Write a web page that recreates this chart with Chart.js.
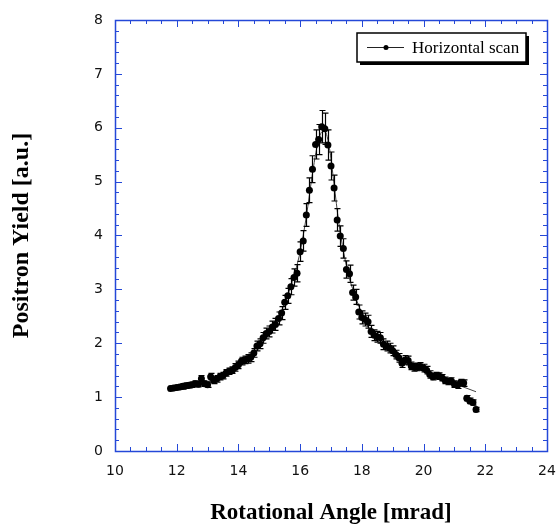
<!DOCTYPE html>
<html>
<head>
<meta charset="utf-8">
<script src="https://cdn.jsdelivr.net/npm/chart.js@4"></script>
<style>
  html, body { margin: 0; padding: 0; background: #fff; }
  #wrap { width: 556px; height: 528px; }
</style>
</head>
<body>
<div id="wrap"><canvas id="scanChart" width="556" height="528"></canvas></div>
<script>
// rotational angle [mrad]
const angles = [
  11.8, 11.9, 12.0, 12.1, 12.2, 12.3, 12.4, 12.5, 12.6, 12.7, 12.8, 12.9, 13.0,
  13.1, 13.2, 13.3, 13.4, 13.5, 13.6, 13.7, 13.8, 13.9, 14.0,
  14.1, 14.2, 14.3, 14.4, 14.5, 14.6, 14.7, 14.8, 14.9, 15.0,
  15.1, 15.2, 15.3, 15.4, 15.5, 15.6, 15.7, 15.8, 15.9, 16.0,
  16.1, 16.2, 16.3, 16.4, 16.5, 16.6, 16.7, 16.8, 16.9, 17.0,
  17.1, 17.2, 17.3, 17.4, 17.5, 17.6, 17.7, 17.8, 17.9, 18.0,
  18.1, 18.2, 18.3, 18.4, 18.5, 18.6, 18.7, 18.8, 18.9, 19.0,
  19.1, 19.2, 19.3, 19.4, 19.5, 19.6, 19.7, 19.8, 19.9, 20.0,
  20.1, 20.2, 20.3, 20.4, 20.5, 20.6, 20.7, 20.8, 20.9, 21.0,
  21.1, 21.2, 21.3, 21.4, 21.5, 21.6, 21.7
];
// positron yield [a.u.]
const yields = [
  1.16, 1.17, 1.18, 1.19, 1.20, 1.21, 1.22, 1.23, 1.25, 1.24, 1.34, 1.25, 1.23,
  1.38, 1.31, 1.34, 1.38, 1.40, 1.45, 1.48, 1.50, 1.55, 1.60,
  1.67, 1.69, 1.71, 1.74, 1.82, 1.95, 1.99, 2.10, 2.18, 2.22,
  2.30, 2.35, 2.46, 2.56, 2.76, 2.88, 3.05, 3.22, 3.30, 3.70,
  3.90, 4.38, 4.84, 5.23, 5.69, 5.78, 6.02, 5.98, 5.68, 5.29,
  4.88, 4.29, 3.99, 3.76, 3.37, 3.29, 2.94, 2.86, 2.58, 2.48,
  2.44, 2.40, 2.22, 2.15, 2.12, 2.10, 1.98, 1.95, 1.91, 1.86,
  1.79, 1.73, 1.63, 1.69, 1.68, 1.58, 1.55, 1.56, 1.57, 1.54,
  1.50, 1.42, 1.38, 1.40, 1.39, 1.36, 1.31, 1.29, 1.30, 1.24,
  1.22, 1.27, 1.26, 0.98, 0.93, 0.90, 0.77
];
// error bar half-heights
const errors = [
  0.04, 0.04, 0.04, 0.04, 0.05, 0.05, 0.05, 0.05, 0.05, 0.05, 0.06, 0.05, 0.05,
  0.06, 0.06, 0.06, 0.06, 0.06, 0.06, 0.06, 0.06, 0.07, 0.07,
  0.07, 0.07, 0.08, 0.08, 0.08, 0.09, 0.09, 0.10, 0.10, 0.10,
  0.11, 0.11, 0.12, 0.12, 0.13, 0.14, 0.15, 0.16, 0.16, 0.18,
  0.19, 0.21, 0.23, 0.25, 0.27, 0.28, 0.30, 0.29, 0.28, 0.26,
  0.24, 0.21, 0.19, 0.18, 0.16, 0.16, 0.14, 0.14, 0.13, 0.12,
  0.12, 0.12, 0.11, 0.10, 0.10, 0.10, 0.10, 0.09, 0.09, 0.09,
  0.08, 0.08, 0.08, 0.08, 0.08, 0.07, 0.07, 0.07, 0.07, 0.07,
  0.07, 0.07, 0.06, 0.06, 0.06, 0.06, 0.06, 0.06, 0.06, 0.06,
  0.06, 0.06, 0.06, 0.05, 0.05, 0.05, 0.04
];
// fitted curve drawn through the scan
const fitAngles = [11.8, 12.5, 13.0, 13.5, 14.0, 14.5, 15.0, 15.25, 15.5, 15.75, 16.0, 16.2, 16.4, 16.55, 16.7, 16.8, 16.95, 17.1, 17.25, 17.4, 17.6, 17.8, 18.0, 18.25, 18.5, 19.0, 19.5, 20.0, 20.5, 21.0, 21.7];
const fitYields = [1.13, 1.20, 1.28, 1.40, 1.56, 1.80, 2.18, 2.42, 2.75, 3.15, 3.70, 4.35, 5.15, 5.65, 5.92, 5.93, 5.62, 4.95, 4.25, 3.72, 3.20, 2.85, 2.55, 2.25, 2.05, 1.80, 1.62, 1.48, 1.36, 1.25, 1.10];

const xTickLabels = [10, 12, 14, 16, 18, 20, 22, 24];
const yTickLabels = [0, 1, 2, 3, 4, 5, 6, 7, 8];

const AXIS_BLUE = '#2448d8';

const errorBars = {
  id: 'errorBars',
  afterDatasetsDraw(chart) {
    const ctx = chart.ctx;
    const xs = chart.scales.x, ys = chart.scales.y;
    ctx.save();
    ctx.strokeStyle = '#000';
    ctx.lineWidth = 1.2;
    angles.forEach((a, i) => {
      const px = Math.round(xs.getPixelForValue(a)) + 0.5;
      const top = ys.getPixelForValue(yields[i] + errors[i]);
      const bot = ys.getPixelForValue(yields[i] - errors[i]);
      ctx.beginPath();
      ctx.moveTo(px, top); ctx.lineTo(px, bot);
      ctx.moveTo(px - 3, top); ctx.lineTo(px + 3, top);
      ctx.moveTo(px - 3, bot); ctx.lineTo(px + 3, bot);
      ctx.stroke();
    });
    ctx.restore();
  }
};

// frame on all four sides with inward ticks
const frameTicks = {
  id: 'frameTicks',
  afterDraw(chart) {
    const ctx = chart.ctx;
    const xs = chart.scales.x, ys = chart.scales.y;
    const { left, right, top, bottom } = chart.chartArea;
    ctx.save();
    ctx.strokeStyle = AXIS_BLUE;
    ctx.lineWidth = 1;
    for (let v = xs.min; v <= xs.max + 1e-9; v += 0.5) {
      const px = Math.round(xs.getPixelForValue(v)) + 0.5;
      const len = (Math.abs(v % 2) < 1e-9) ? 7 : 4;
      ctx.beginPath();
      ctx.moveTo(px, bottom); ctx.lineTo(px, bottom - len);
      ctx.moveTo(px, top); ctx.lineTo(px, top + len);
      ctx.stroke();
    }
    for (let v = ys.min; v <= ys.max + 1e-9; v += 0.2) {
      const py = Math.round(ys.getPixelForValue(v)) + 0.5;
      const len = (Math.abs(v - Math.round(v)) < 1e-6) ? 7 : 4;
      ctx.beginPath();
      ctx.moveTo(left, py); ctx.lineTo(left + len, py);
      ctx.moveTo(right, py); ctx.lineTo(right - len, py);
      ctx.stroke();
    }
    ctx.lineWidth = 1.5;
    ctx.strokeRect(Math.round(left) + 0.5, Math.round(top) + 0.5, Math.round(right - left), Math.round(bottom - top));
    ctx.restore();
  }
};

// boxed legend with drop shadow
const boxLegend = {
  id: 'boxLegend',
  afterDraw(chart) {
    const ctx = chart.ctx;
    const x = 357, y = 33, w = 169, h = 29;
    ctx.save();
    ctx.fillStyle = '#000';
    ctx.fillRect(x + 3, y + 3, w, h);
    ctx.fillStyle = '#fff';
    ctx.fillRect(x, y, w, h);
    ctx.strokeStyle = '#000';
    ctx.lineWidth = 1.5;
    ctx.strokeRect(x, y, w, h);
    const my = y + h / 2;
    ctx.lineWidth = 1;
    ctx.strokeStyle = '#222';
    ctx.beginPath();
    ctx.moveTo(x + 10, my); ctx.lineTo(x + 47, my);
    ctx.stroke();
    ctx.fillStyle = '#000';
    ctx.beginPath();
    ctx.arc(x + 29, my, 2.5, 0, Math.PI * 2);
    ctx.fill();
    ctx.font = '17px "Liberation Serif"';
    ctx.textBaseline = 'middle';
    ctx.fillText(chart.data.datasets[0].label, x + 55, my + 1);
    ctx.restore();
  }
};

new Chart('scanChart', {
  type: 'scatter',
  data: {
    datasets: [
      {
        label: 'Horizontal scan',
        data: angles.map((a, i) => ({ x: a, y: yields[i] })),
        showLine: false,
        pointRadius: 3.5,
        pointBackgroundColor: '#000',
        pointBorderColor: '#000',
        pointBorderWidth: 0,
        order: 0
      },
      {
        label: 'fit',
        data: fitAngles.map((a, i) => ({ x: a, y: fitYields[i] })),
        showLine: true,
        cubicInterpolationMode: 'monotone',
        borderColor: '#444',
        borderWidth: 1,
        pointRadius: 0,
        order: 1
      }
    ]
  },
  options: {
    responsive: false,
    animation: false,
    layout: { padding: { top: 20, right: 9, left: 0, bottom: 0 } },
    plugins: {
      legend: { display: false },
      tooltip: { enabled: false }
    },
    scales: {
      x: {
        type: 'linear',
        min: 10,
        max: 24,
        afterFit: (s) => { s.height = 77; s.paddingLeft = 0; s.paddingRight = 0; },
        afterBuildTicks: (s) => { s.ticks = xTickLabels.map(v => ({ value: v })); },
        grid: { display: false, drawTicks: false },
        border: { display: false },
        ticks: {
          padding: 12,
          color: '#111',
          font: { family: '"DejaVu Sans"', size: 14 }
        },
        title: {
          display: true,
          text: 'Rotational Angle [mrad]',
          color: '#000',
          font: { family: '"Liberation Serif"', size: 23, weight: 'bold' },
          padding: { top: 0, bottom: 1 }
        }
      },
      y: {
        min: 0,
        max: 8,
        afterFit: (s) => { s.width = 115; s.paddingTop = 0; s.paddingBottom = 0; },
        afterBuildTicks: (s) => { s.ticks = yTickLabels.map(v => ({ value: v })); },
        grid: { display: false, drawTicks: false },
        border: { display: false },
        ticks: {
          padding: 12,
          color: '#111',
          font: { family: '"DejaVu Sans"', size: 14 }
        },
        title: {
          display: true,
          text: 'Positron Yield [a.u.]',
          color: '#000',
          font: { family: '"Liberation Serif"', size: 24, weight: 'bold' },
          padding: { top: 7, bottom: 0 }
        }
      }
    }
  },
  plugins: [errorBars, frameTicks, boxLegend]
});
</script>
</body>
</html>
